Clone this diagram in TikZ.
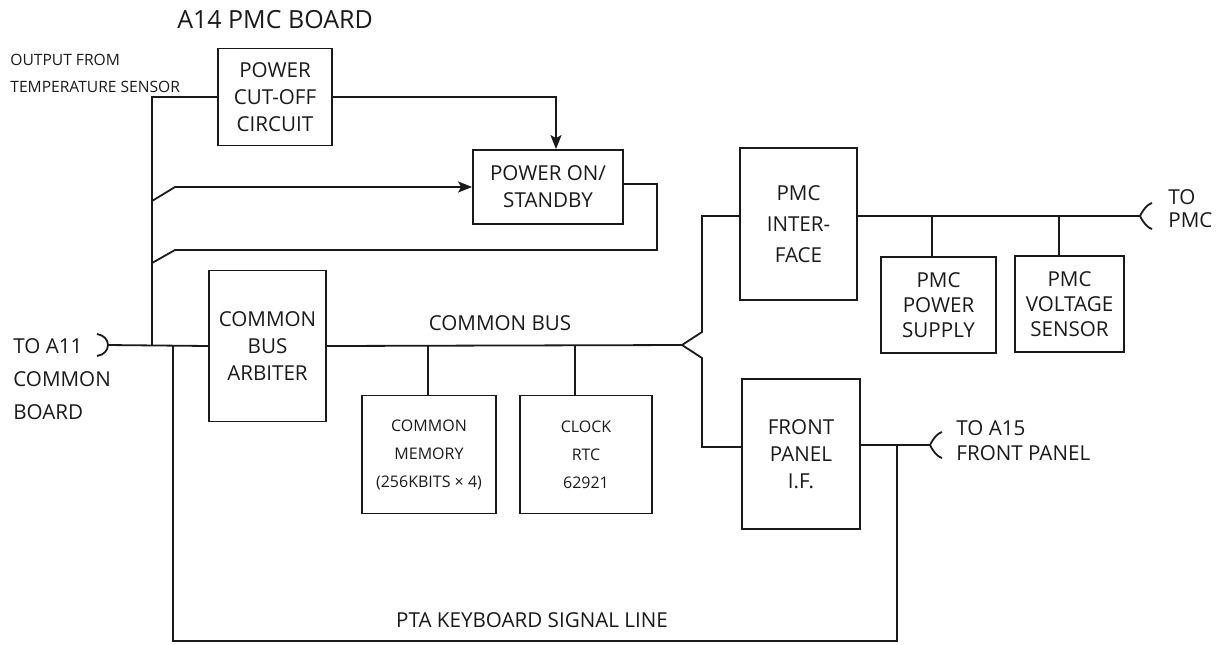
\documentclass[tikz,border=0pt]{standalone}
\usepackage{fontspec}
\setmainfont{Open Sans}
\usetikzlibrary{arrows.meta,positioning,calc}
\definecolor{KInk}{HTML}{1A1A1A}
\tikzset{
  blk/.style={rectangle,draw=KInk,line width=0.9pt,align=center,inner sep=2pt,
              text=KInk,font=\fontsize{10.3}{13.5}\selectfont},
  wire/.style={draw=KInk,line width=0.9pt},
  lbl/.style={inner sep=0pt,text=KInk,font=\fontsize{10.3}{13.5}\selectfont},
  feed/.style={wire,-{Stealth[length=7pt,width=5.5pt,inset=1.5pt]}}
}

\begin{document}
\begin{tikzpicture}[x=0.5pt,y=-0.5pt]
  \useasboundingbox (0,0) rectangle (1229,644);
  \node[lbl,font=\fontsize{12.5}{14}\selectfont] (board) at (275,20) {A14 PMC BOARD};
  \node[lbl,anchor=west,align=left,font=\fontsize{7.8}{13.5}\selectfont] (tempsrc) at (10,73.5)
    {OUTPUT FROM\\TEMPERATURE SENSOR};

  \node[blk,minimum width=57pt,minimum height=48.5pt] (cutoff) at (275,97) {POWER\\CUT-OFF\\CIRCUIT};
  \node[blk,minimum width=75pt,minimum height=37pt] (poweron) at (548,187) {POWER ON/\\STANDBY};
  \node[blk,minimum width=58.5pt,minimum height=75.5pt] (arbiter) at (267.5,346) {COMMON\\BUS\\ARBITER};
  \node[blk,minimum width=67pt,minimum height=59pt,font=\fontsize{8}{14}\selectfont] (memory) at (429,454.5)
    {COMMON\\MEMORY\\(256KBITS × 4)};
  \node[blk,minimum width=66pt,minimum height=59pt,font=\fontsize{8}{14}\selectfont] (clock) at (586,454.5)
    {CLOCK\\RTC\\62921};
  \node[blk,minimum width=58.5pt,minimum height=76pt,font=\fontsize{10.3}{15.5}\selectfont] (pmcif) at (798.5,224)
    {PMC\\INTER-\\FACE};
  \node[blk,minimum width=59pt,minimum height=75pt] (front) at (801,454) {FRONT\\PANEL\\I.F.};
  \node[blk,minimum width=57.5pt,minimum height=48pt,font=\fontsize{10.3}{12.5}\selectfont] (pwrsup) at (938.5,305)
    {PMC\\POWER\\SUPPLY};
  \node[blk,minimum width=54.5pt,minimum height=48pt,font=\fontsize{10.3}{12.5}\selectfont] (voltsens) at (1069.5,304)
    {PMC\\VOLTAGE\\SENSOR};

  \node[lbl] (busname) at (500,323) {COMMON BUS};
  \node[lbl] (kbdname) at (532,620) {PTA KEYBOARD SIGNAL LINE};
  \node[lbl,anchor=west,align=left,font=\fontsize{10.3}{16.5}\selectfont] (toA11) at (13,379) {TO A11\\COMMON\\BOARD};
  \node[lbl,anchor=west,align=left,font=\fontsize{10.3}{11.5}\selectfont] (toPMC) at (1168,209) {TO\\PMC};
  \node[lbl,anchor=west,align=left,font=\fontsize{10.3}{12.5}\selectfont] (toA15) at (956,441) {TO A15\\FRONT PANEL};

  \coordinate (plugA) at (108,345);
  \coordinate (plugP) at (1140,216);
  \coordinate (plugF) at (930,445);
  \coordinate (tapT) at (152,345);
  \coordinate (brOn) at (152,201);
  \coordinate (brOff) at (152,263);
  \coordinate (wedge) at (682,345);
  \coordinate (tapM) at (428,345);
  \coordinate (tapC) at (575,345);
  \coordinate (tapS) at (932,216);
  \coordinate (tapV) at (1059,216);
  \coordinate (tapK) at (897,445);
  \coordinate (tapB) at (173,345);
  \coordinate (cornK) at (173,641);

  \draw[wire] (97,334) .. controls (104,335) and (108,340) .. (plugA) .. controls (108,350) and (104,355) .. (97,356);
  \draw[wire] (1152,203) .. controls (1145,205) and (plugP) .. (plugP) .. controls (plugP) and (1145,227) .. (1152,229);
  \draw[wire] (942,432) .. controls (935,434) and (plugF) .. (plugF) .. controls (plugF) and (935,456) .. (942,458);

  \draw[wire] (cutoff.west) -| (tapT);
  \draw[wire] (plugA) -- (arbiter.west);
  \draw[feed] (cutoff.east) -| ([xshift=4pt]poweron.north);
  \draw[feed] (brOn) -- (175,187) -- (poweron.west);
  \draw[wire] (brOff) -- (175,250) -| (657,184) -- ([yshift=1.5pt]poweron.east);
  \draw[wire] (arbiter.east) -- (wedge);
  \draw[wire] (wedge) -- (702,332) |- ([yshift=4pt]pmcif.west);
  \draw[wire] (wedge) -- (702,358) |- ([yshift=3.5pt]front.west);
  \draw[wire] (memory.north -| tapM) -- (tapM);
  \draw[wire] (clock.north -| tapC) -- (tapC);
  \draw[wire] ([yshift=4pt]pmcif.east) -- (plugP);
  \draw[wire] (pwrsup.north -| tapS) -- (tapS);
  \draw[wire] (voltsens.north -| tapV) -- (tapV);
  \draw[wire] ([yshift=4.5pt]front.east) -- (plugF);
  \draw[wire] (tapK) |- (cornK) -- (tapB);
\end{tikzpicture}
\end{document}
